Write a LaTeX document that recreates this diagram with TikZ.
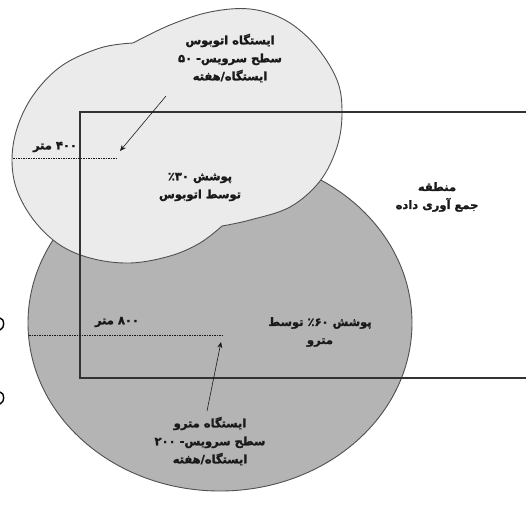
\documentclass[tikz,border=0pt]{standalone}
\usepackage{fontspec}
\usetikzlibrary{arrows.meta}
\TeXXeTstate=1
\newfontfamily\arabicfont[Script=Arabic,FakeBold=1.6]{DejaVu Sans}
\definecolor{lightfill}{RGB}{235,235,235}
\definecolor{darkfill}{RGB}{180,180,180}
\definecolor{edgecol}{RGB}{80,80,80}
\definecolor{rectcol}{RGB}{50,50,50}
\definecolor{txtcol}{RGB}{25,25,25}
\tikzset{
  bubble/.style={draw=edgecol, line width=0.9pt},
  zone/.style={draw=rectcol, line width=1.8pt},
  radius line/.style={draw=txtcol, line width=0.7pt, dash pattern=on 1.5pt off 1pt},
  pointer/.style={draw=txtcol, line width=0.6pt, -{Stealth[length=6pt,width=5pt]}},
  label/.style={text=txtcol, font=\arabicfont\bfseries\fontsize{11.5}{18}\selectfont, align=center, inner sep=0pt},
}
\begin{document}
\begin{tikzpicture}[x=1pt,y=-1pt]
\useasboundingbox (0,0) rectangle (526,514);
% metro catchment
\fill[darkfill] (220,323) ellipse [x radius=192, y radius=168];
\draw[bubble] (220,323) ellipse [x radius=192, y radius=168];
% bus catchment (cloud-like)
\draw[bubble, fill=lightfill]
  plot[smooth, tension=0.6] coordinates {(133,43) (100,48) (60,67) (30,100) (14,140) (14,180) (30,215) (57,243) (90,258) (130,263) (170,256) (200,243) (222,226)}
  -- plot[smooth, tension=0.6] coordinates {(222,226) (250,220) (290,207) (320,181) (337,147) (342,113) (337,80) (315,45) (285,20) (250,9) (210,12) (170,25) (133,43)}
  -- cycle;
% data collection zone
\draw[zone] (526,112) -- (80,112) -- (80,378) -- (526,378);
% small marks on left edge
\draw[line width=1.4pt, black] (0,318) .. controls (5,319) and (5,328) .. (0,330);
\draw[line width=1.4pt, black] (0,392) .. controls (5,393) and (5,402) .. (0,404);
% radius lines
\coordinate (bl) at (13,158);
\coordinate (bc) at (118,158);
\draw[radius line] (bl) -- (bc);
\coordinate (ml) at (29,335);
\coordinate (mc) at (222,335);
\draw[radius line] (ml) -- (mc);
% labels
\node[label] (busst) at (230,58) {\beginR ایستگاه اتوبوس\endR\\\beginR سطح سرویس- ۵۰\endR\\\beginR ایستگاه/هفته\endR};
\node[label] (buscov) at (200,187) {\beginR پوشش ٪۳۰\endR\\\beginR توسط اتوبوس\endR};
\node[label] (zonelbl) at (437,197) {\beginR منطقه\endR\\\beginR جمع آوری داده\endR};
\node[label] (metrocov) at (320,332) {\beginR پوشش ٪۶۰ توسط\endR\\\beginR مترو\endR};
\node[label] (metrost) at (210,441) {\beginR ایستگاه مترو\endR\\\beginR سطح سرویس- ۲۰۰\endR\\\beginR ایستگاه/هفته\endR};
\node[label] (r400) at (55,147) {\beginR ۴۰۰ متر\endR};
\node[label] (r800) at (117,322) {\beginR ۸۰۰ متر\endR};
% pointers
\coordinate (p1s) at (166,96);
\coordinate (p1e) at (120,151);
\draw[pointer] (p1s) -- (p1e);
\coordinate (p2s) at (207,411);
\coordinate (p2e) at (221,342);
\draw[pointer] (p2s) -- (p2e);
\end{tikzpicture}
\end{document}
